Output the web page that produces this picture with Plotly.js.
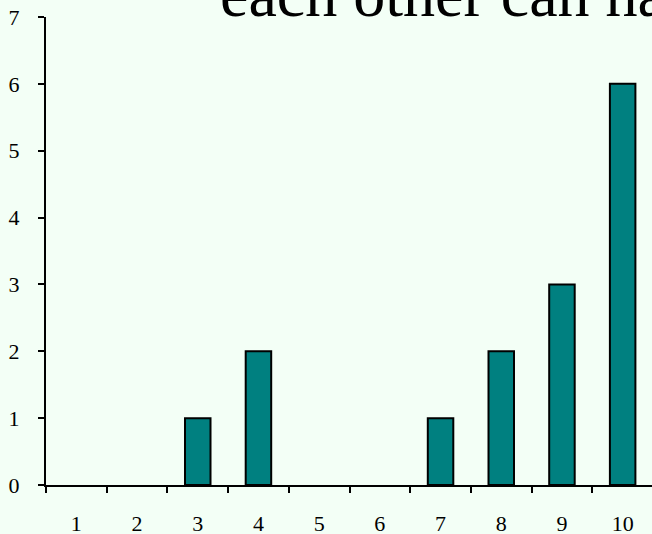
<!DOCTYPE html>
<html>
<head>
<meta charset="utf-8">
<script src="https://cdn.plot.ly/plotly-3.0.1.min.js"></script>
<style>
html,body{margin:0;padding:0;overflow:hidden;background:#F3FFF6;}
#chart{width:700px;height:534px;}
</style>
</head>
<body>
<div id="chart"></div>
<script>
const categories = ["1","2","3","4","5","6","7","8","9","10"];
const counts = [0,0,1,2,0,0,1,2,3,6];
const yTicks = [0,1,2,3,4,5,6,7];
const titleText = "each other can have";

const bg = "#F3FFF6";
const fontFam = "'Liberation Serif', 'Times New Roman', serif";

const trace = {
  type: "bar",
  x: categories,
  y: counts,
  marker: {
    color: "#008080",
    line: {color: "#000000", width: counts.map(v => v === 0 ? 0 : 2)}
  },
  hoverinfo: "skip"
};

const layout = {
  width: 700,
  height: 534,
  margin: {l: 46, r: 47, t: 17, b: 49, pad: 0},
  paper_bgcolor: bg,
  plot_bgcolor: bg,
  showlegend: false,
  bargap: 0.58,
  font: {family: fontFam, size: 22, color: "#000000"},
  xaxis: {
    type: "category",
    showline: true, linecolor: "#000", linewidth: 2,
    ticks: "outside", ticklen: 6, tickwidth: 2, tickcolor: "#000",
    tickson: "boundaries",
    showgrid: false, zeroline: false,
    ticklabelstandoff: 18,
    tickfont: {family: fontFam, size: 22, color: "#000"}
  },
  yaxis: {
    range: [0, 7],
    tickvals: yTicks,
    showline: true, linecolor: "#000", linewidth: 2,
    ticks: "outside", ticklen: 6, tickwidth: 2, tickcolor: "#000",
    showgrid: false, zeroline: false,
    ticklabelstandoff: 14,
    tickfont: {family: fontFam, size: 22, color: "#000"}
  },
  annotations: [{
    text: titleText,
    xref: "paper", yref: "paper",
    x: (218 - 46) / 607, xanchor: "left",
    y: (485 - 32) / 468, yanchor: "bottom",
    showarrow: false,
    font: {family: fontFam, size: 64, color: "#000"}
  }]
};

Plotly.newPlot("chart", [trace], layout, {displayModeBar: false, staticPlot: true});
</script>
</body>
</html>
